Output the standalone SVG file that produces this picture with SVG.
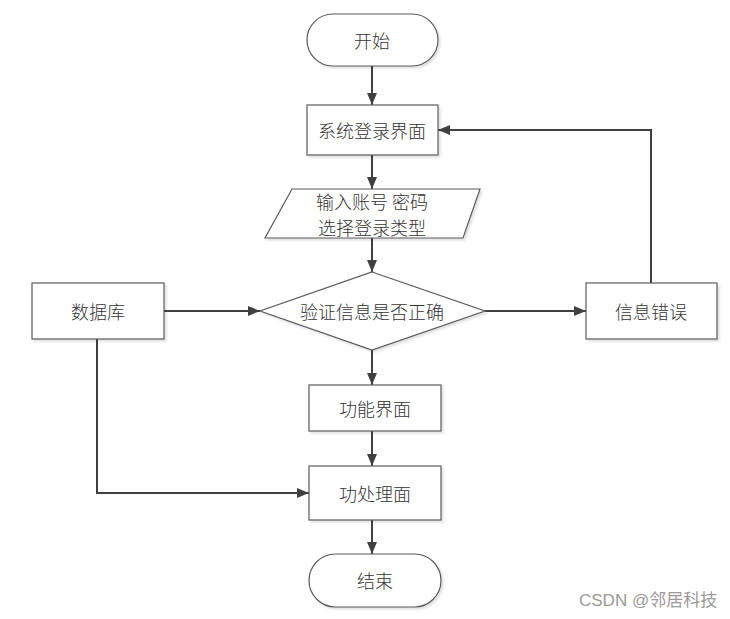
<svg xmlns="http://www.w3.org/2000/svg" width="730" height="619" viewBox="0 0 730 619">
<defs>
<marker id="ah" markerWidth="12" markerHeight="10" refX="12" refY="5" orient="auto" markerUnits="userSpaceOnUse">
<path d="M0,0 L12,5 L0,10 Z" fill="#404040"/>
</marker>
<filter id="sh" x="-10%" y="-10%" width="130%" height="130%">
<feDropShadow dx="2" dy="2" stdDeviation="0.8" flood-color="#000" flood-opacity="0.12"/>
</filter>
</defs>
<style>
.n{fill:#fff;stroke:#5a5a5a;stroke-width:1.2;filter:url(#sh)}
.t{font-family:"Noto Sans CJK SC","Microsoft YaHei",sans-serif;font-size:18px;font-weight:300;fill:#333;text-anchor:middle;dominant-baseline:central}
.c{fill:none;stroke:#404040;stroke-width:2;marker-end:url(#ah)}
.w{font-family:"Liberation Sans","Noto Sans CJK SC",sans-serif;font-size:17px;fill:#9a9a9a}
</style>
<rect width="730" height="619" fill="#fff"/>
<g id="connectors">
<path class="c" d="M372,66 L372,105"/>
<path class="c" d="M372,155 L372,189"/>
<path class="c" d="M372,238 L372,272"/>
<path class="c" d="M164,311 L260,311"/>
<path class="c" d="M485,311 L586,311"/>
<path class="c" d="M651,283 L651,130 L438,130"/>
<path class="c" d="M372,350 L372,385"/>
<path class="c" d="M372,431 L372,466"/>
<path class="c" d="M97,339 L97,493 L309,493"/>
<path class="c" d="M372,520 L372,554"/>
</g>
<g id="start">
<rect class="n" x="307" y="14" width="131" height="52" rx="26"/>
<text class="t" x="372" y="40">开始</text>
</g>
<g id="login">
<rect class="n" x="307" y="105" width="131" height="50"/>
<text class="t" x="372" y="130">系统登录界面</text>
</g>
<g id="input">
<polygon class="n" points="292,189 480,189 463,238 265,238"/>
<text class="t" x="372" y="201">输入账号 密码</text>
<text class="t" x="372" y="227">选择登录类型</text>
</g>
<g id="verify">
<polygon class="n" points="372,272 485,311 372,350 260,311"/>
<text class="t" x="372" y="311">验证信息是否正确</text>
</g>
<g id="db">
<rect class="n" x="32" y="283" width="132" height="56"/>
<text class="t" x="98" y="311">数据库</text>
</g>
<g id="error">
<rect class="n" x="586" y="283" width="131" height="56"/>
<text class="t" x="651" y="311">信息错误</text>
</g>
<g id="func">
<rect class="n" x="309" y="385" width="132" height="46"/>
<text class="t" x="375" y="408">功能界面</text>
</g>
<g id="process">
<rect class="n" x="309" y="466" width="132" height="54"/>
<text class="t" x="375" y="493">功处理面</text>
</g>
<g id="end">
<rect class="n" x="309" y="554" width="132" height="53" rx="26.5"/>
<text class="t" x="375" y="580">结束</text>
</g>
<text class="w" x="579" y="606">CSDN @邻居科技</text>
</svg>
